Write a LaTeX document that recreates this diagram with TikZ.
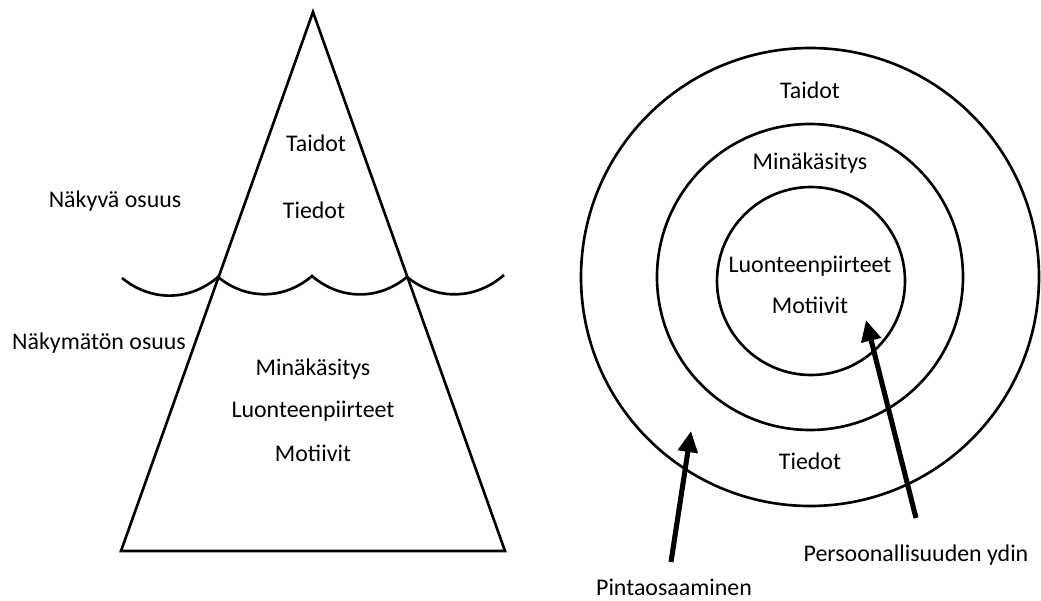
\documentclass[tikz,border=0pt]{standalone}
\usepackage{fontspec}
\setmainfont{Carlito}
\usetikzlibrary{arrows.meta}

\tikzset{
  lbl/.style={font=\fontsize{13.6}{16}\selectfont, inner sep=0pt},
  shapeline/.style={line width=1.5pt},
  pointer/.style={line width=2.9pt, -{Triangle[length=12pt, width=11pt]}}
}

\begin{document}
\begin{tikzpicture}[x=0.02cm, y=-0.02cm]
  \useasboundingbox (0,0) rectangle (1041,601);

  % Jaeavuori
  \coordinate (kärki) at (313,12);
  \coordinate (pohjaV) at (121,551);
  \coordinate (pohjaO) at (505,551);
  \draw[shapeline, line join=miter] (kärki) -- (pohjaO) -- (pohjaV) -- cycle;

  % Vesiraja
  \coordinate (aalto0) at (122,278);
  \coordinate (aalto1) at (218,277);
  \coordinate (aalto2) at (312,276);
  \coordinate (aalto3) at (407,277);
  \coordinate (aalto4) at (504,275);
  \draw[shapeline] (aalto0) to[bend right=40] (aalto1)
    to[bend right=40] (aalto2) to[bend right=40] (aalto3)
    to[bend right=40] (aalto4);

  % Tekstit vasemmalla
  \node[lbl] (taidotV) at (316,143) {Taidot};
  \node[lbl] (tiedotV) at (314,210) {Tiedot};
  \node[lbl] (nakyva) at (115,201) {Näkyvä osuus};
  \node[lbl] (nakymaton) at (99,343) {Näkymätön osuus};
  \node[lbl] (minaV) at (313,369) {Minäkäsitys};
  \node[lbl] (luonneV) at (313,411) {Luonteenpiirteet};
  \node[lbl] (motiivitV) at (313,453) {Motiivit};

  % Ympyrät
  \coordinate (keskus) at (810,277);
  \draw[shapeline] (keskus) circle[radius=229];
  \draw[shapeline] (keskus) circle[radius=153];
  \draw[shapeline] (811,281) circle[radius=94];

  % Tekstit oikealla
  \node[lbl] (taidotO) at (810,90) {Taidot};
  \node[lbl] (minaO) at (810,163) {Minäkäsitys};
  \node[lbl] (luonneO) at (810,266) {Luonteenpiirteet};
  \node[lbl] (motiivitO) at (810,305) {Motiivit};
  \node[lbl] (tiedotO) at (810,461) {Tiedot};
  \node[lbl] (ydin) at (916,555) {Persoonallisuuden ydin};
  \node[lbl] (pinta) at (674,587) {Pintaosaaminen};

  % Nuolet
  \coordinate (pintaAlku) at (671,562);
  \coordinate (pintaKohde) at (691,431);
  \coordinate (ydinAlku) at (916,518);
  \coordinate (ydinKohde) at (866,320);
  \draw[pointer] (pintaAlku) -- (pintaKohde);
  \draw[pointer] (ydinAlku) -- (ydinKohde);
\end{tikzpicture}
\end{document}
